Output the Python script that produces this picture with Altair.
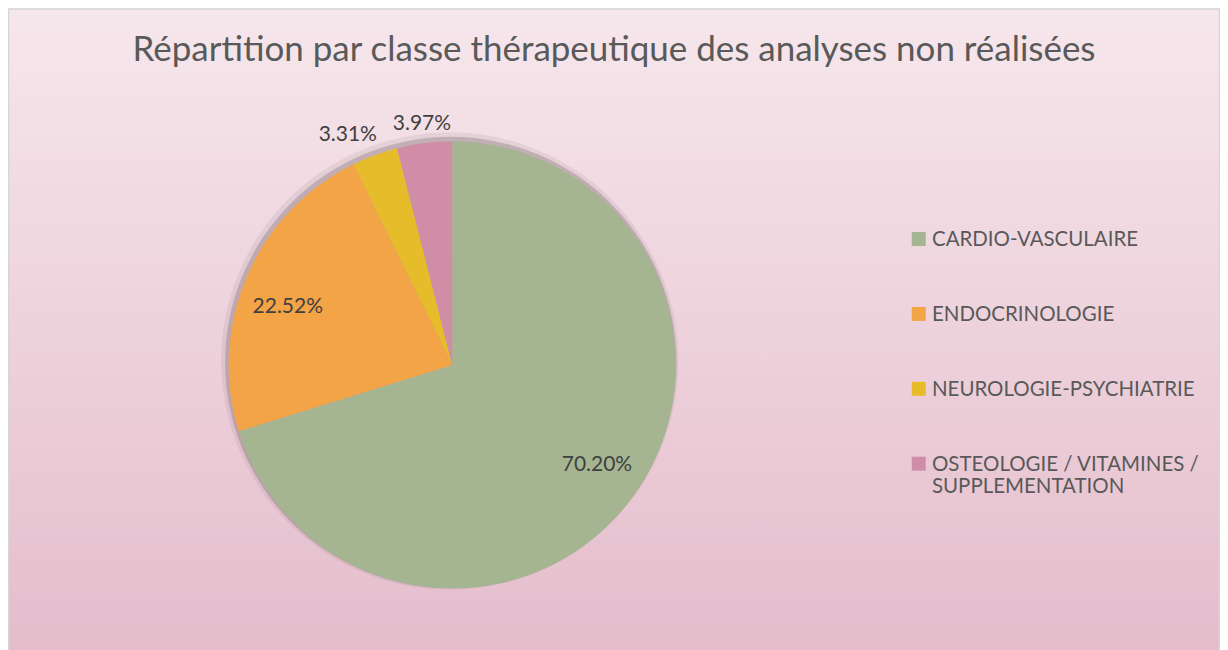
import altair as alt
import pandas as pd

categories = ["CARDIO-VASCULAIRE", "ENDOCRINOLOGIE", "NEUROLOGIE-PSYCHIATRIE",
              "OSTEOLOGIE / VITAMINES / SUPPLEMENTATION"]
values = [70.20, 22.52, 3.31, 3.97]
colors = ["#a5b592", "#f3a447", "#e6bc2a", "#cf8ea5"]
title_text = "Répartition par classe thérapeutique des analyses non réalisées"

W, H = 1214, 645
CX, CY, R = 445, 357, 224
FONT = "Lato"

df = pd.DataFrame({"category": categories, "value": values})

base = alt.Chart(df).transform_calculate(
    label="format(datum.value, '.2f') + '%'"
)

bg = alt.Chart(alt.Data(values=[{}])).mark_rect(
    color=alt.Gradient(
        gradient="linear",
        stops=[alt.GradientStop(color="#f6e7ec", offset=0),
               alt.GradientStop(color="#e4bccb", offset=1)],
        x1=0, x2=0, y1=0, y2=1,
    ),
    stroke="#d6d6d6", strokeWidth=1.5,
).encode(x=alt.value(0.5), x2=alt.value(W - 0.5), y=alt.value(0.5), y2=alt.value(H + 10))

shadow1 = alt.Chart(alt.Data(values=[{}])).mark_arc(
    radius=R + 5, color="#6e5c63", opacity=0.10, xOffset=-2.5, yOffset=-4
).encode(theta=alt.value(0), theta2=alt.value(6.2832), x=alt.value(CX), y=alt.value(CY))
shadow2 = alt.Chart(alt.Data(values=[{}])).mark_arc(
    radius=R + 2, color="#5a4a50", opacity=0.25, xOffset=-1.5, yOffset=-2.5
).encode(theta=alt.value(0), theta2=alt.value(6.2832), x=alt.value(CX), y=alt.value(CY))

theta = alt.Theta("value:Q", stack=True)
order = alt.Order("category:N", sort="ascending")

pie = base.mark_arc(radius=R).encode(
    theta=theta,
    order=order,
    x=alt.value(CX), y=alt.value(CY),
    color=alt.Color(
        "category:N",
        scale=alt.Scale(domain=categories, range=colors),
        legend=alt.Legend(
            title=None, orient="none", legendX=902, legendY=228,
            symbolType="M-1,-2.05H1V-0.05H-1Z", symbolSize=196, symbolStrokeWidth=0,
            labelFont=FONT, labelFontSize=20.5, labelColor="#595959",
            labelBaseline="alphabetic", labelOffset=3, labelLimit=0,
            rowPadding=54, padding=0,
            labelExpr="datum.label == 'OSTEOLOGIE / VITAMINES / SUPPLEMENTATION' ? ['OSTEOLOGIE / VITAMINES /', 'SUPPLEMENTATION'] : datum.label",
        ),
    ),
)

def text_layer(cat, radius, align, dx, dy):
    return base.mark_text(
        radius=radius, font=FONT, fontSize=21, color="#404040",
        align=align, baseline="middle", dx=dx, dy=dy,
    ).encode(
        theta=theta, order=order, detail="category:N",
        x=alt.value(CX), y=alt.value(CY),
        text=alt.condition(f"datum.category == '{cat}'", "label:N", alt.value("")),
    )

lbl_cardio = text_layer(categories[0], 175, "center", 4, -4)
lbl_endo = text_layer(categories[1], 175, "center", -4, 11)
lbl_neuro = text_layer(categories[2], 250, "right", 11, 4)
lbl_osteo = text_layer(categories[3], 244, "center", 0, 1)

chart = alt.layer(bg, shadow1, shadow2, pie, lbl_cardio, lbl_endo, lbl_neuro, lbl_osteo).properties(
    width=W, height=H,
    autosize=alt.AutoSizeParams(type="none"),
    padding=0,
    title=alt.TitleParams(
        text=title_text, font=FONT, fontSize=35, fontWeight="normal",
        color="#595959", anchor="middle", frame="group",
        baseline="alphabetic", offset=-88,
    ),
).configure_view(stroke=None).configure(background="white")

chart.save("out.html", embed_options={"renderer": "svg", "actions": False})
